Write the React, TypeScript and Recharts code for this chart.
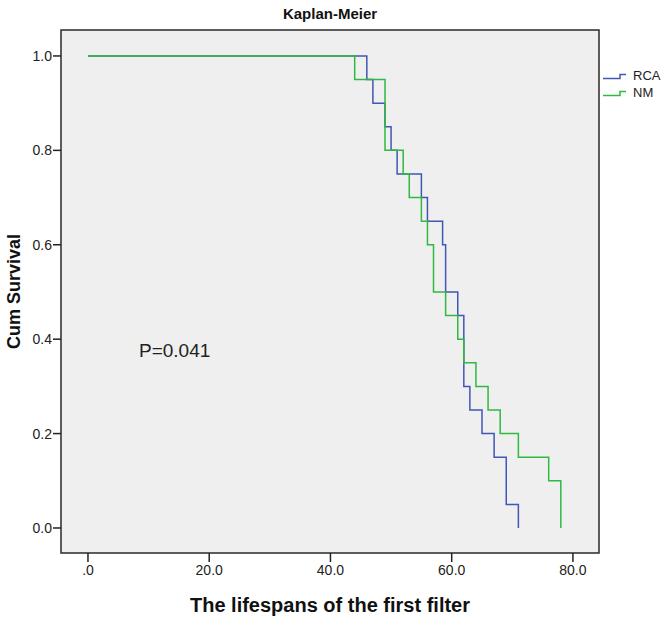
import React from 'react';
import {
  LineChart,
  Line,
  XAxis,
  YAxis,
  CartesianGrid,
  ReferenceArea,
} from 'recharts';

// Kaplan-Meier step points: [time, cumulative survival]
const rcaTimes = [0, 46, 47, 49, 50, 51, 55, 56, 58.5, 59, 61, 62, 63, 65, 67, 69, 71];
const rcaSurvival = [1.0, 0.95, 0.9, 0.85, 0.8, 0.75, 0.7, 0.65, 0.6, 0.5, 0.45, 0.3, 0.25, 0.2, 0.15, 0.05, 0.0];

const nmTimes = [0, 44, 49, 52, 53, 55, 56, 57, 59, 61, 62, 64, 66, 68, 71, 76, 78];
const nmSurvival = [1.0, 0.95, 0.8, 0.75, 0.7, 0.65, 0.6, 0.5, 0.45, 0.4, 0.35, 0.3, 0.25, 0.2, 0.15, 0.1, 0.0];

const xTicks = [0, 20, 40, 60, 80];
const yTicks = [0, 0.2, 0.4, 0.6, 0.8, 1.0];

const seriesNames = ['RCA', 'NM'];
const seriesColors = ['#4257b5', '#2fba3f'];

const X_DOMAIN: [number, number] = [-4.45, 84.3];
const Y_DOMAIN: [number, number] = [-0.053, 1.055];

const toPoints = (times: number[], surv: number[]) =>
  times.map((t, i) => ({ t, s: surv[i] }));

const rcaData = toPoints(rcaTimes, rcaSurvival);
const nmData = toPoints(nmTimes, nmSurvival);

const FONT = "Arial, 'Liberation Sans', Helvetica, sans-serif";

const StepIcon = ({ color }: { color: string }) => (
  <svg width={24} height={8} style={{ display: 'block' }}>
    <path d="M0,6.5 H17 V2.5 H23" fill="none" stroke={color} strokeWidth={1.5} />
  </svg>
);

const App: React.FC = () => {
  return (
    <div style={{ position: 'absolute', left: 0, top: 0, width: 664, height: 618, background: '#fff' }}>
      <div
        style={{
          position: 'absolute',
          left: 61,
          width: 538,
          top: 5,
          textAlign: 'center',
          fontFamily: FONT,
          fontWeight: 'bold',
          fontSize: 15,
          color: '#111',
        }}
      >
        Kaplan-Meier
      </div>
      <LineChart
        width={664}
        height={618}
        margin={{ top: 30, right: 65, bottom: 0, left: 0 }}
        style={{ fontFamily: FONT }}
      >
        <CartesianGrid horizontal={false} vertical={false} fill="#efefef" />
        <XAxis
          type="number"
          dataKey="t"
          domain={X_DOMAIN}
          ticks={xTicks}
          tickFormatter={(v: number) => (v === 0 ? '.0' : v.toFixed(1))}
          height={65}
          tickSize={9}
          tickMargin={3}
          axisLine={false}
          tickLine={{ stroke: '#222', strokeWidth: 1.5 }}
          tick={{ fill: '#222', fontSize: 14 }}
          allowDataOverflow
          label={{
            value: 'The lifespans of the first filter',
            position: 'insideBottom',
            offset: 6,
            style: { fontSize: 20, fontWeight: 'bold', fill: '#111', fontFamily: FONT },
          }}
        />
        <YAxis
          type="number"
          dataKey="s"
          domain={Y_DOMAIN}
          ticks={yTicks}
          tickFormatter={(v: number) => v.toFixed(1)}
          width={61}
          tickSize={8}
          tickMargin={1}
          axisLine={false}
          tickLine={{ stroke: '#222', strokeWidth: 1.5 }}
          tick={{ fill: '#222', fontSize: 14 }}
          allowDataOverflow
          label={{
            value: 'Cum Survival',
            angle: -90,
            position: 'insideLeft',
            offset: 14,
            style: { textAnchor: 'middle', fontSize: 18, fontWeight: 'bold', fill: '#111', fontFamily: FONT },
          }}
        />
        <ReferenceArea
          x1={X_DOMAIN[0]}
          x2={X_DOMAIN[1]}
          y1={Y_DOMAIN[0]}
          y2={Y_DOMAIN[1]}
          fill="none"
          stroke="#2a2a2a"
          strokeWidth={1.5}
          ifOverflow="visible"
        />
        <Line
          data={rcaData}
          dataKey="s"
          name={seriesNames[0]}
          type="stepAfter"
          stroke={seriesColors[0]}
          strokeWidth={1.5}
          dot={false}
          activeDot={false}
          isAnimationActive={false}
        />
        <Line
          data={nmData}
          dataKey="s"
          name={seriesNames[1]}
          type="stepAfter"
          stroke={seriesColors[1]}
          strokeWidth={1.5}
          dot={false}
          activeDot={false}
          isAnimationActive={false}
        />
      </LineChart>
      {/* legend sits outside the plot frame, top right */}
      <div
        style={{
          position: 'absolute',
          left: 603,
          top: 67,
          fontFamily: FONT,
          fontSize: 13,
          color: '#222',
        }}
      >
        {seriesNames.map((name, i) => (
          <div key={name} style={{ display: 'flex', alignItems: 'center', height: 17 }}>
            <StepIcon color={seriesColors[i]} />
            <span style={{ marginLeft: 6 }}>{name}</span>
          </div>
        ))}
      </div>
      <div
        style={{
          position: 'absolute',
          left: 139,
          top: 340,
          fontFamily: FONT,
          fontSize: 19,
          color: '#222',
        }}
      >
        P=0.041
      </div>
    </div>
  );
};

export default App;
